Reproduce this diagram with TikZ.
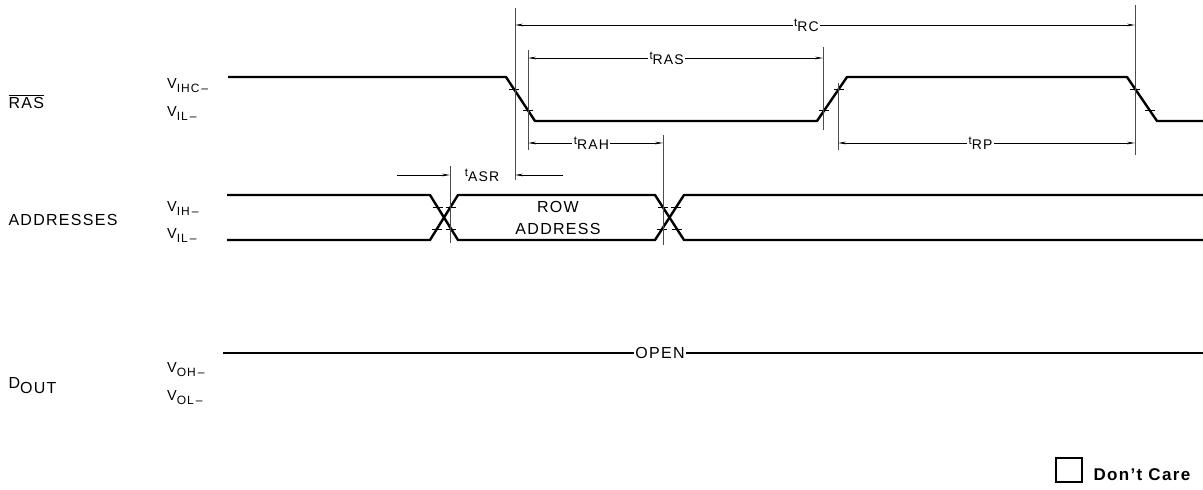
\documentclass[tikz,border=0pt]{standalone}
\usepackage{fontspec}
\setmainfont{Liberation Sans}[LetterSpace=8]
\usetikzlibrary{arrows.meta}
\tikzset {>={Stealth[length=8pt,width=2.6pt]}}
\newcommand{\tlab}[1]{{\fontsize{14}{14}\selectfont\raisebox{5pt}{\fontsize{11.5}{11.5}\selectfont t}#1}}
\newcommand{\vlab}[1]{{\fontsize{14.5}{15}\selectfont V\raisebox{-4pt}{\fontsize{12}{12}\selectfont #1\,--}}}

\begin{document}
\begin{tikzpicture}[x=1pt,y=-1pt,
  font=\fontsize{16}{18}\selectfont,
  wave/.style={line width=2.4pt,line join=round},
  tickm/.style={line width=1pt},
  ext/.style={line width=.5pt,black!70},
  dim/.style={line width=.6pt},
  dimlabel/.style={fill=white,inner sep=1.5pt}]
\useasboundingbox (0,0) rectangle (1203,490);
% signal names
\node[anchor=base west] (ras) at (5,108) {$\overline{\mbox{RAS}}$};
\node[anchor=base west] (addr) at (5,225) {ADDRESSES};
\node[anchor=base west] (dout) at (5,388) {D\raisebox{-5pt}{OUT}};
\foreach \nm/\s/\yb in {vihc/IHC/88,vilr/IL/116,vih/IH/211,vila/IL/238,voh/OH/372,vol/OL/400}
  \node[anchor=base west,inner sep=0pt] (\nm) at (167,\yb) {\vlab{\s}};
% RAS
\draw[wave] (228,77) -- (506,77) -- (535,121) -- (817,121) -- (847,77)
  -- (1127,77) -- (1157,121) -- (1203,121);
% addresses
\draw[wave] (227,195) -- (430,195) -- (458,240) -- (655,240) -- (684,195) -- (1203,195);
\draw[wave] (227,240) -- (430,240) -- (458,195) -- (655,195) -- (684,240) -- (1203,240);
\node[anchor=base] (row) at (558,212) {ROW};
\node[anchor=base] (rowaddr) at (558,234) {ADDRESS};
% D out
\draw[wave] (223,353) -- (1203,353) node[pos=.446,dimlabel] (open) {OPEN};
% threshold ticks
\foreach \x/\y in {514/89,528/110,824/110,839/89,1135/89,1150/110,
  437.5/207,451/229,450.5/207,437/229,663/207,677/229,676/207,662/229}
  \draw[tickm] (\x-5,\y) -- (\x+5,\y);
% extension lines
\foreach \x/\ya/\yb in {515/8/180,528/50/150,823/47/130,838/83/150,1135/5/155,450/166/243,663/135/245}
  \draw[ext] (\x,\ya) -- (\x,\yb);
% timing
\coordinate (rcA) at (515,25);
\coordinate (rcB) at (1135,25);
\draw[dim,<->] (rcA) -- (rcB) node[pos=.47,dimlabel] (trc) {\tlab{RC}};
\coordinate (rasA) at (528,58);
\coordinate (rasB) at (823,58);
\draw[dim,<->] (rasA) -- (rasB) node[pos=.47,dimlabel] (tras) {\tlab{RAS}};
\coordinate (rahA) at (528,143);
\coordinate (rahB) at (663,143);
\draw[dim,<->] (rahA) -- (rahB) node[pos=.47,dimlabel] (trah) {\tlab{RAH}};
\coordinate (rpA) at (838,143);
\coordinate (rpB) at (1135,143);
\draw[dim,<->] (rpA) -- (rpB) node[pos=.48,dimlabel] (trp) {\tlab{RP}};
\coordinate (asrA) at (397,175);
\coordinate (asrB) at (450,175);
\coordinate (asrC) at (515,175);
\coordinate (asrD) at (563,175);
\draw[dim,->] (asrA) -- (asrB);
\draw[dim,->] (asrD) -- (asrC);
\node (tasr) at (482,175) {\tlab{ASR}};
% legend
\draw[line width=1.4pt] (1056,458) rectangle (1082,482);
\node[anchor=base west,font=\fontsize{17}{19}\selectfont\bfseries] (dc) at (1090,480) {Don't Care};
\end{tikzpicture}
\end{document}
